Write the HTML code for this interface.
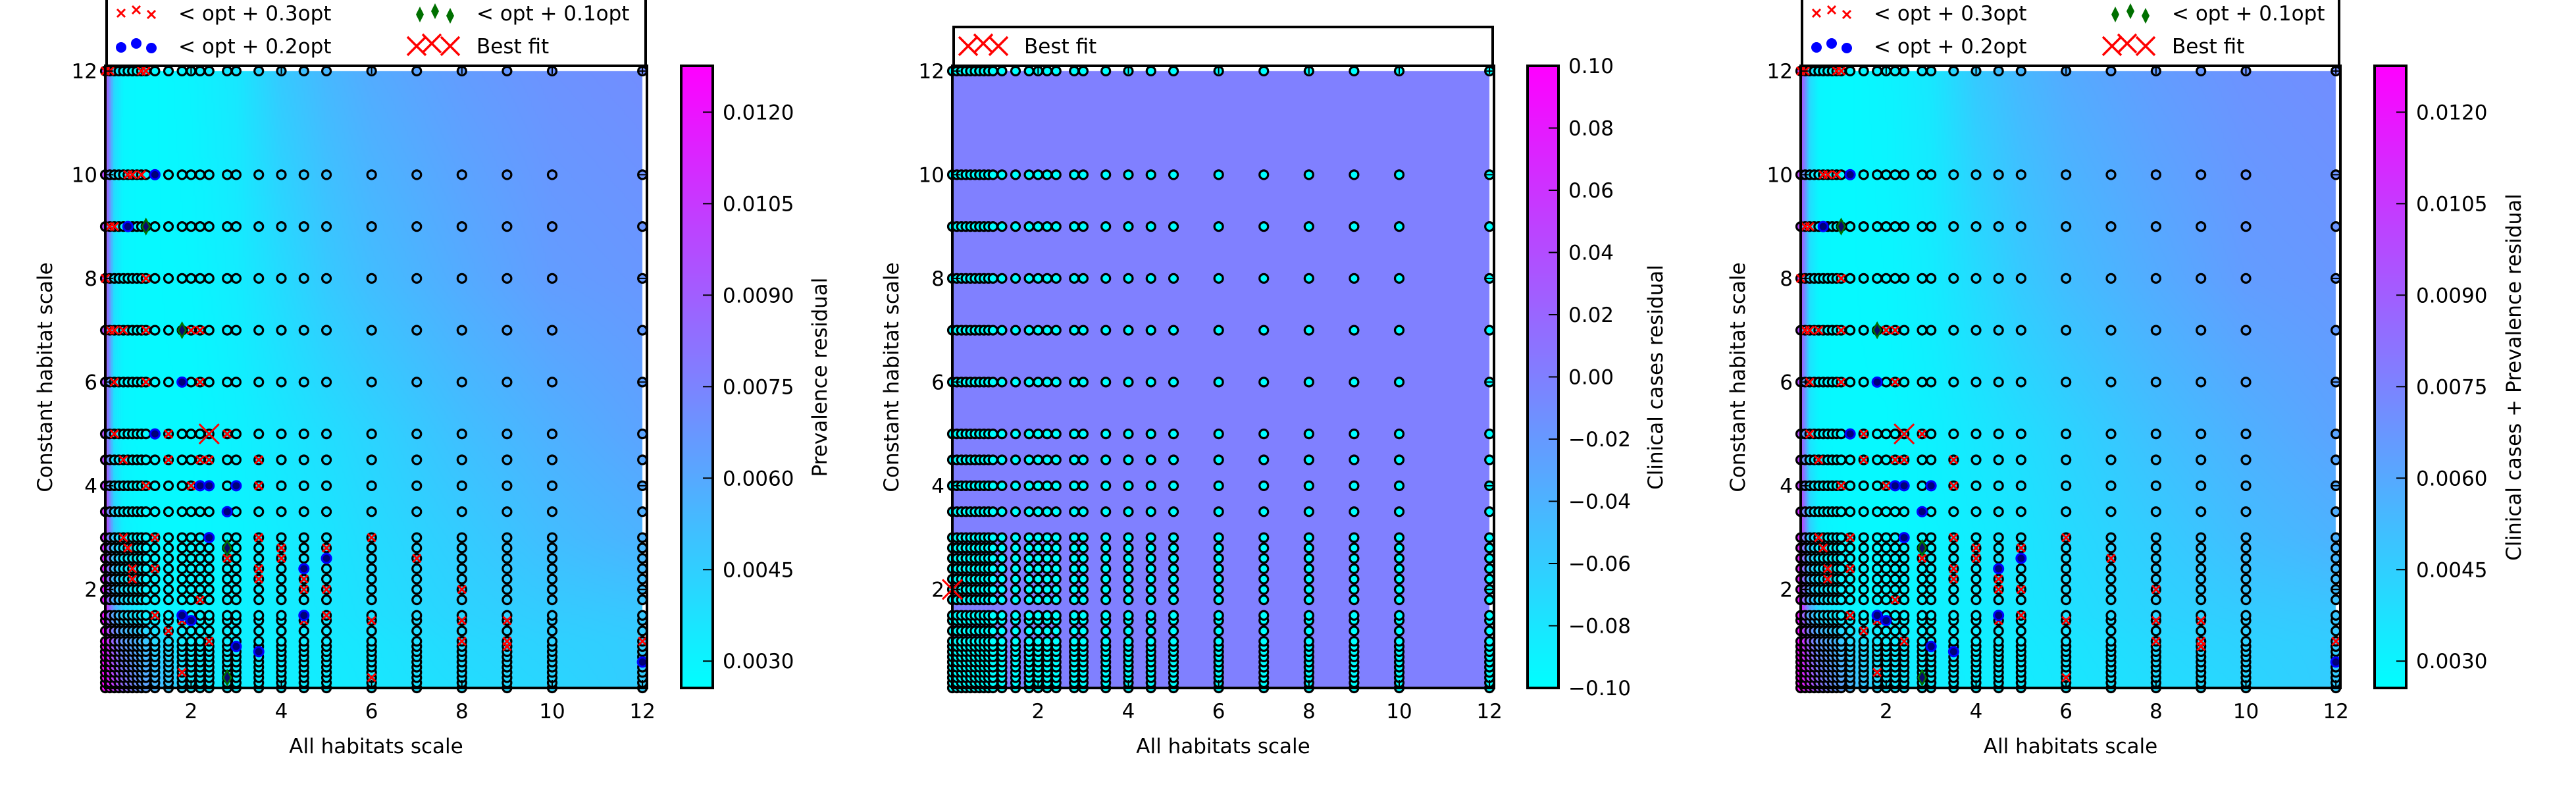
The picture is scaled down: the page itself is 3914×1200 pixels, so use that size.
<!DOCTYPE html>
<html><head><meta charset="utf-8">
<style>
html,body{margin:0;padding:0;background:#fff;}
#wrap{position:relative;width:3914px;height:1200px;overflow:hidden;font-family:"DejaVu Sans","Liberation Sans",sans-serif;}
canvas,svg{position:absolute;left:0;top:0;}
svg text{font-family:"DejaVu Sans","Liberation Sans",sans-serif;}
</style></head>
<body>
<div id="wrap">
<canvas id="heat" width="3914" height="1200"></canvas>
<svg id="svg" width="3914" height="1200" xmlns="http://www.w3.org/2000/svg"></svg>
</div>
<script>
// ---- data ----
const gridX = [0.1,0.2,0.3,0.4,0.5,0.6,0.7,0.8,0.9,1.0,1.2,1.5,1.8,2.0,2.2,2.4,2.8,3.0,3.5,4,4.5,5,6,7,8,9,10,12];
const gridY = [0.1,0.2,0.3,0.4,0.5,0.6,0.7,0.8,0.9,1.0,1.2,1.4,1.5,1.8,2.0,2.2,2.4,2.6,2.8,3.0,3.5,4,4.5,5,6,7,8,9,10,12];
const heatX = [0.1,0.2,0.3,0.5,0.8,1.2,2,3,4,5,6,8,10,12];
const heatY = [0.1,1.0,1.5,3,5,8,12];
const prevResidual = [
 [0.0128,0.0117,0.0107,0.0087,0.0071,0.0056,0.0036,0.0033,0.0032,0.0033,0.0035,0.0039,0.0042,0.0046],
 [0.0124,0.0107,0.0087,0.0066,0.0056,0.0041,0.0032,0.0032,0.0032,0.0034,0.0036,0.0041,0.0044,0.0046],
 [0.0122,0.0087,0.0061,0.0041,0.0034,0.0030,0.0029,0.0031,0.0033,0.0035,0.0038,0.0043,0.0046,0.0048],
 [0.0112,0.0077,0.0046,0.0031,0.0029,0.0028,0.0028,0.0030,0.0033,0.0036,0.0040,0.0046,0.0052,0.0056],
 [0.0097,0.0066,0.0036,0.0029,0.0028,0.0028,0.0028,0.0031,0.0035,0.0039,0.0043,0.0051,0.0057,0.0062],
 [0.0099,0.0068,0.0038,0.0029,0.0028,0.0028,0.0029,0.0033,0.0040,0.0047,0.0052,0.0059,0.0065,0.0067],
 [0.0102,0.0071,0.0041,0.0029,0.0028,0.0028,0.0030,0.0035,0.0047,0.0054,0.0059,0.0065,0.0069,0.0071]
];
const clinicalValue = 0.0;
const prevTicks = ["0.0030","0.0045","0.0060","0.0075","0.0090","0.0105","0.0120"];
const clinTicks = ["\u22120.10","\u22120.08","\u22120.06","\u22120.04","\u22120.02","0.00","0.02","0.04","0.06","0.08","0.10"];
const axisTicks = [2,4,6,8,10,12];
const red03 = [[0.1,12],[0.2,12],[0.9,12],[1.0,12],[0.6,10],[0.7,10],[0.9,10],[0.2,9],[0.3,9],[0.1,8],[1.0,8],[0.2,7],[0.3,7],[0.5,7],[1.0,7],[2.0,7],[2.2,7],[0.3,6],[1.0,6],[2.2,6],[0.3,5],[1.5,5],[2.8,5],[0.5,4.5],[1.5,4.5],[2.2,4.5],[2.4,4.5],[3.5,4.5],[1.0,4],[2.0,4],[3.5,4],[0.5,3],[1.2,3],[3.5,3],[6,3],[0.6,2.8],[4,2.8],[5,2.8],[2.8,2.6],[4,2.6],[7,2.6],[0.7,2.4],[1.2,2.4],[3.5,2.4],[0.7,2.2],[3.5,2.2],[4.5,2.2],[4.5,2.0],[5,2.0],[8,2.0],[2.2,1.8],[1.2,1.5],[5,1.5],[1.8,1.4],[4.5,1.4],[6,1.4],[8,1.4],[9,1.4],[1.5,1.2],[2.4,1.0],[8,1.0],[9,1.0],[12,1.0],[9,0.9],[1.8,0.4],[6,0.3]];
const blue02 = [[1.2,10],[0.6,9],[1.8,6],[1.2,5],[2.2,4],[2.4,4],[3,4],[2.8,3.5],[2.4,3],[5,2.6],[4.5,2.4],[1.8,1.5],[4.5,1.5],[2.0,1.4],[3.0,0.9],[3.5,0.8],[12,0.6]];
const green01 = [[1.0,9],[1.8,7],[2.8,2.8],[2.8,0.3]];
const bestFit1 = [2.4,5];
const bestFit2 = [0.1,2];

// ---- layout ----
const TOP=100, BOT=1045, XMIN=0.1, XMAX=12.1, YMIN=0.1, YMAX=12.1, FS=31;
const panels = [
 {id:'prevalence', L:160, R:983, cbL:1035, cbR:1083, yT:68, cbT:1245, title:'Prevalence residual', kind:'prev'},
 {id:'clinical', L:1447, R:2270, cbL:2321, cbR:2368, yT:1354, cbT:2515, title:'Clinical cases residual', kind:'clin'},
 {id:'combined', L:2736, R:3556, cbL:3608, cbR:3656, yT:2640, cbT:3819, title:'Clinical cases + Prevalence residual', kind:'prev'}
];
const PMIN=0.00256, PMAX=0.01276;
const svg=document.getElementById('svg');
const ctx=document.getElementById('heat').getContext('2d');
const NS='http://www.w3.org/2000/svg';
function mk(tag,attrs,parent){const e=document.createElementNS(NS,tag);for(const k in attrs)e.setAttribute(k,attrs[k]);(parent||svg).appendChild(e);return e;}
function cool(t){t=Math.max(0,Math.min(1,t));return [Math.round(255*t),Math.round(255*(1-t)),255];}
function rgb(c){return 'rgb('+c[0]+','+c[1]+','+c[2]+')';}
function seg(arr,v){let i=0;while(i<arr.length-2&&v>arr[i+1])i++;let f=(v-arr[i])/(arr[i+1]-arr[i]);return [i,Math.max(0,Math.min(1,f))];}
function prevAt(x,y){const [i,fx]=seg(heatX,x);const [j,fy]=seg(heatY,y);
 const a=prevResidual[j][i],b=prevResidual[j][i+1],c=prevResidual[j+1][i],d=prevResidual[j+1][i+1];
 return (a*(1-fx)+b*fx)*(1-fy)+(c*(1-fx)+d*fx)*fy;}

panels.forEach(p=>{
 const sx=v=>p.L+(v-XMIN)/(XMAX-XMIN)*(p.R-p.L);
 const sy=v=>BOT-(v-YMIN)/(YMAX-YMIN)*(BOT-TOP);
 const g=mk('g',{});
 
 
 const x0=Math.round(sx(0.1)),x1=Math.round(sx(12)),y0=Math.round(sy(12)),y1=Math.round(sy(0.1));
 const step=3;
 for(let px=x0;px<x1;px+=step){for(let py=y0;py<y1;py+=step){
   const xv=XMIN+(px+step/2-p.L)/(p.R-p.L)*(XMAX-XMIN);
   const yv=YMIN+(BOT-(py+step/2))/(BOT-TOP)*(YMAX-YMIN);
   let t = p.kind==='prev' ? (prevAt(xv,yv)-PMIN)/(PMAX-PMIN) : (clinicalValue+0.1)/0.2;
   ctx.fillStyle=rgb(cool(t));ctx.fillRect(px,py,step,step);
 }}
 const pts=mk('g',{},g);
 
 
 gridY.forEach(yv=>gridX.forEach(xv=>{
   let t = p.kind==='prev' ? (prevAt(xv,yv)-PMIN)/(PMAX-PMIN) : 0;
   const c=mk('circle',{cx:sx(xv),cy:sy(yv),r:6.5,fill:rgb(cool(t)),stroke:'#000','stroke-width':3.2},pts);
   
   
 }));
 function xmark(x,y,s,w,par){return mk('path',{d:`M${x-s},${y-s}L${x+s},${y+s}M${x-s},${y+s}L${x+s},${y-s}`,stroke:'#f00','stroke-width':w,fill:'none'},par);}
 function diamond(x,y,par){return mk('path',{d:`M${x},${y-11}L${x+6},${y}L${x},${y+11}L${x-6},${y}Z`,fill:'#0b0b6b',stroke:'#007000','stroke-width':2.5},par);}
 if(p.kind==='prev'){
  red03.forEach(d=>{const m=xmark(sx(d[0]),sy(d[1]),6,3,g);});
  blue02.forEach(d=>{const m=mk('circle',{cx:sx(d[0]),cy:sy(d[1]),r:7,fill:'#00007a',stroke:'#0000ff','stroke-width':3},g);});
  green01.forEach(d=>{const m=diamond(sx(d[0]),sy(d[1]),g);});
  const b=xmark(sx(bestFit1[0]),sy(bestFit1[1]),15,3,g);
 } else {
  const b=xmark(sx(bestFit2[0]),sy(bestFit2[1]),15,3,g);
 }
 const fr=mk('rect',{x:p.L,y:TOP,width:p.R-p.L,height:BOT-TOP,fill:'none',stroke:'#000','stroke-width':4},g);
 
 axisTicks.forEach(v=>{
   const X=sx(v),Y=sy(v);
   mk('line',{x1:X,y1:BOT,x2:X,y2:BOT-12,stroke:'#000','stroke-width':2},g);
   mk('line',{x1:X,y1:TOP,x2:X,y2:TOP+12,stroke:'#000','stroke-width':2},g);
   mk('line',{x1:p.L,y1:Y,x2:p.L+12,y2:Y,stroke:'#000','stroke-width':2},g);
   mk('line',{x1:p.R,y1:Y,x2:p.R-12,y2:Y,stroke:'#000','stroke-width':2},g);
   const tx=mk('text',{x:X,y:BOT+46,'font-size':FS,'text-anchor':'middle'},g);tx.textContent=v;
   
   const ty=mk('text',{x:p.L-12,y:Y+11,'font-size':FS,'text-anchor':'end'},g);ty.textContent=v;
   
 });
 const xt=mk('text',{x:(p.L+p.R)/2,y:1144,'font-size':FS,'text-anchor':'middle'},g);xt.textContent='All habitats scale';
 
 const yt=mk('text',{x:p.yT+11,y:573,'font-size':FS,'text-anchor':'middle',transform:`rotate(-90 ${p.yT+11} 573)`},g);yt.textContent='Constant habitat scale';
 
 const cb=mk('g',{},g);
 for(let py=TOP;py<BOT;py+=2){const t=1-(py+1-TOP)/(BOT-TOP);mk('rect',{x:p.cbL,y:py,width:p.cbR-p.cbL,height:2.5,fill:rgb(cool(t))},cb);}
 mk('rect',{x:p.cbL,y:TOP,width:p.cbR-p.cbL,height:BOT-TOP,fill:'none',stroke:'#000','stroke-width':4},cb);
 const labs = p.kind==='prev'?prevTicks:clinTicks;
 labs.forEach(l=>{
   const v=parseFloat(l.replace('\u2212','-'));
   const Y = p.kind==='prev' ? BOT-(v-PMIN)/(PMAX-PMIN)*(BOT-TOP) : BOT-(v+0.1)/0.2*(BOT-TOP);
   mk('line',{x1:p.cbR,y1:Y,x2:p.cbR-15,y2:Y,stroke:'#000','stroke-width':2},cb);
   const t=mk('text',{x:p.cbR+15,y:Y+11,'font-size':FS},cb);t.textContent=l;
   
 });
 const ct=mk('text',{x:p.cbT+11,y:573,'font-size':FS,'text-anchor':'middle',transform:`rotate(-90 ${p.cbT+11} 573)`},cb);ct.textContent=p.title;
 
 const lg=mk('g',{},g);
 if(p.kind==='prev'){
  mk('rect',{x:p.L+2,y:-10,width:p.R-p.L-4,height:TOP+10,fill:'#fff',stroke:'#000','stroke-width':4},lg);
  const o=p.L;
  [[24,20],[47,15],[70,22]].forEach(a=>xmark(o+a[0],a[1],6,3,lg));
  [[24,72],[47,66],[70,73]].forEach(a=>mk('circle',{cx:o+a[0],cy:a[1],r:8,fill:'#0000ff'},lg));
  [[478,22],[501,17],[524,24]].forEach(a=>mk('path',{d:`M${o+a[0]},${a[1]-12}L${o+a[0]+6},${a[1]}L${o+a[0]},${a[1]+12}L${o+a[0]-6},${a[1]}Z`,fill:'#007000'},lg));
  [[473,70],[496,66],[524,70]].forEach(a=>xmark(o+a[0],a[1],14,3.5,lg));
  [['< opt + 0.3opt',111,31],['< opt + 0.2opt',111,81],['< opt + 0.1opt',564,31],['Best fit',564,81]].forEach(a=>{
    const t=mk('text',{x:o+a[1],y:a[2],'font-size':FS},lg);t.textContent=a[0];
    });
 } else {
  mk('rect',{x:p.L+2,y:41,width:p.R-p.L-4,height:TOP-41,fill:'#fff',stroke:'#000','stroke-width':4},lg);
  const o=p.L;
  [[24,70],[47,66],[70,70]].forEach(a=>xmark(o+a[0],a[1],14,3.5,lg));
  const t=mk('text',{x:o+109,y:81,'font-size':FS},lg);t.textContent='Best fit';
  
 }
});
</script>
</body></html>
